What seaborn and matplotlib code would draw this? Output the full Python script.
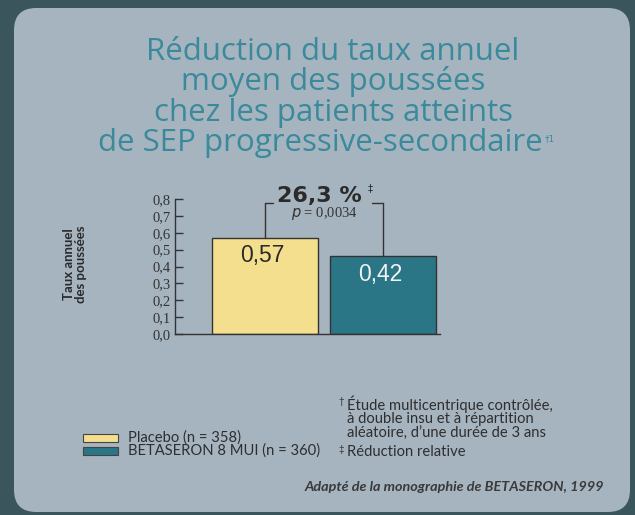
import matplotlib
matplotlib.use("Agg")
import matplotlib.pyplot as plt
from matplotlib.patches import FancyBboxPatch, Rectangle
import seaborn as sns
import pandas as pd

# ---- data ----
categories = ["Placebo (n = 358)", "BETASERON 8 MUI (n = 360)"]
bar_heights = [0.57, 0.46]
bar_labels = ["0,57", "0,42"]
bar_colors = ["#f3df8e", "#2b7686"]
label_colors = ["#2a2a2a", "#f2f2f2"]
yticks = [0.0, 0.1, 0.2, 0.3, 0.4, 0.5, 0.6, 0.7, 0.8]
ytick_labels = ["0,0", "0,1", "0,2", "0,3", "0,4", "0,5", "0,6", "0,7", "0,8"]
title_lines = ["Réduction du taux annuel", "moyen des poussées",
               "chez les patients atteints", "de SEP progressive-secondaire"]
reduction_text = "26,3 %"
p_text = "= 0,0034"
footnotes = ["Étude multicentrique contrôlée,", "à double insu et à répartition",
             "aléatoire, d’une durée de 3 ans"]
footnote2 = "Réduction relative"
source = "Adapté de la monographie de BETASERON, 1999"

sns.set_theme(style="white")
plt.rcParams['font.family'] = ['Lato', 'DejaVu Sans']

W, H = 635, 515
fig = plt.figure(figsize=(W / 100, H / 100), dpi=100)
fig.patch.set_facecolor("#3a565c")

def fx(px):
    return px / W

def fy(py):
    return 1 - py / H

# rounded panel
panel = FancyBboxPatch((fx(14), fy(512)), fx(630) - fx(14), fy(8) - fy(512),
                       boxstyle="round,pad=0,rounding_size=0.035",
                       transform=fig.transFigure, facecolor="#a6b4c0",
                       edgecolor="none", zorder=-5, mutation_aspect=W / H)
fig.patches.append(panel)

# title
title_col = "#3a8a9c"
title_centers = [333, 333, 333, 320]
title_texts = []
for i, line in enumerate(title_lines):
    t = fig.text(fx(title_centers[i]), fy(60 + i * 30.4), line, ha="center",
                 va="baseline", fontsize=22.5, color=title_col,
                 family=["Open Sans", "DejaVu Sans"])
    title_texts.append(t)
fig.canvas.draw()
bb = title_texts[-1].get_window_extent()
fig.text(bb.x1 / W + fx(2), fy(141), "†1", fontsize=6.5, color=title_col, ha="left",
         va="baseline", family=["DejaVu Sans"])

# axes
x0, x1 = 175, 440
y0, y1 = 334, 199
ax = fig.add_axes([fx(x0), fy(y0), fx(x1) - fx(x0), fy(y1) - fy(y0)])
ax.set_facecolor("none")
ax.set_zorder(2)

df = pd.DataFrame({"cat": categories, "val": bar_heights})
sns.barplot(data=df, x="cat", y="val", hue="cat", palette=bar_colors,
            width=0.9, edgecolor="#333333", linewidth=1.0, legend=False, ax=ax,
            saturation=1)

ax.set_ylim(0, 0.8)
ax.set_xlim(-0.763, 1.483)
ax.set_yticks(yticks)
ax.set_yticklabels(ytick_labels, family=["Liberation Serif"], fontsize=10.5, color="#333333")
ax.set_xticks([])
ax.set_xlabel("")
ax.set_ylabel("")
ax.tick_params(axis="y", direction="in", length=6, width=1, color="#333333", pad=3, left=True)
for s in ["top", "right"]:
    ax.spines[s].set_visible(False)
for s in ["left", "bottom"]:
    ax.spines[s].set_color("#333333")
    ax.spines[s].set_linewidth(1.0)

# bar value labels
for i, (h, lab, c) in enumerate(zip(bar_heights, bar_labels, label_colors)):
    ax.text(i - 0.02, h - 0.105, lab, ha="center", va="center", fontsize=16.5,
            color=c, family=["Liberation Sans"])

# bracket
ybr = 0.775
ax.plot([0, 0], [bar_heights[0], ybr], color="#333333", lw=1.0, clip_on=False)
ax.plot([1, 1], [bar_heights[1], ybr], color="#333333", lw=1.0, clip_on=False)
ax.plot([0, 0.07], [ybr, ybr], color="#333333", lw=1.0, clip_on=False)
ax.plot([0.91, 1], [ybr, ybr], color="#333333", lw=1.0, clip_on=False)
ax.text(0.46, 0.82, reduction_text, ha="center", va="center", fontsize=16,
        fontweight="bold", color="#2a2a2a", family=["DejaVu Sans"])
ax.text(0.89, 0.865, "‡", ha="center", va="center", fontsize=7.5, color="#2a2a2a",
        family=["DejaVu Sans"])
ax.text(0.5, 0.715, r"$p$ " + p_text, ha="center", va="center", fontsize=10.5,
        color="#333333", family=["Liberation Serif"])

# y label
fig.text(fx(75), fy(264), "Taux annuel\ndes poussées", rotation=90, ha="center",
         va="center", fontsize=9.5, color="#2a2a2a", linespacing=1.05,
         fontweight="bold", family=["Lato", "DejaVu Sans"])

# legend
txt_col = "#2e2e2e"
for j, (cat, col) in enumerate(zip(categories, bar_colors)):
    yy = 437.5 + j * 13.5
    fig.patches.append(Rectangle((fx(83), fy(yy + 4)), fx(118) - fx(83),
                                 fy(yy - 4) - fy(yy + 4),
                                 transform=fig.transFigure, facecolor=col,
                                 edgecolor="#444444", lw=0.8, zorder=2))
    fig.text(fx(128), fy(yy), cat, ha="left", va="center", fontsize=10.6,
             color=txt_col)

# footnotes
fig.text(fx(338), fy(402), "†", ha="left", va="center", fontsize=7, color=txt_col)
for k, line in enumerate(footnotes):
    fig.text(fx(347), fy(404 + k * 15), line, ha="left", va="center",
             fontsize=10.6, color=txt_col)
fig.text(fx(338), fy(450), "‡", ha="left", va="center", fontsize=7, color=txt_col)
fig.text(fx(347), fy(452), footnote2, ha="left", va="center", fontsize=10.6, color=txt_col)

# source
fig.text(fx(604), fy(487), source, ha="right", va="center", fontsize=10.4,
         style="italic", fontweight="bold", color="#3a3a3a")

fig.savefig("out.png", dpi=100, facecolor=fig.get_facecolor())
